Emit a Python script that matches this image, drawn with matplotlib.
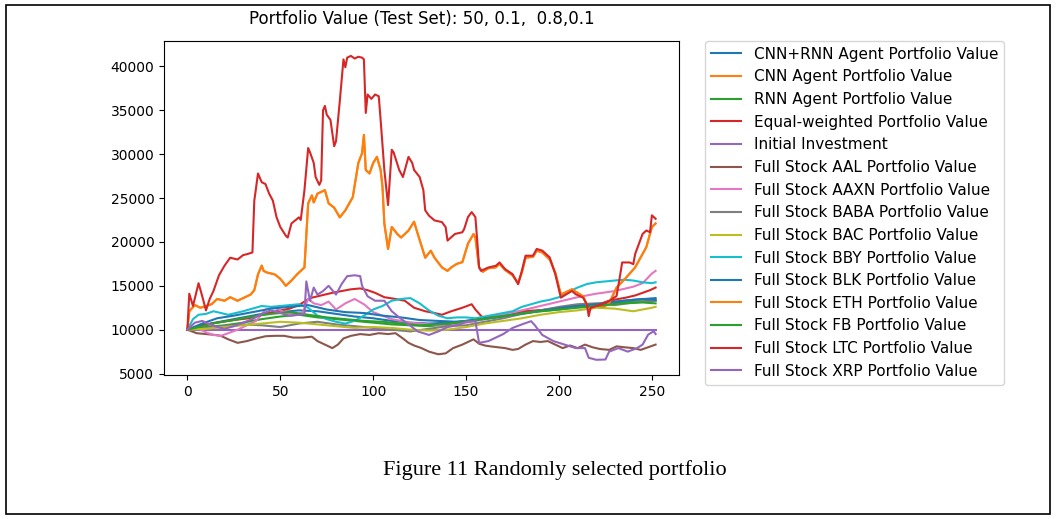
import matplotlib.pyplot as plt
from matplotlib.patches import Rectangle

# values (day index, portfolio value)
ltc_t = [0, 1, 3, 6, 8, 10, 12, 14, 17, 20, 23, 27, 30, 32, 35, 36, 38, 40, 42, 44, 46, 48, 50, 53, 54, 56, 58, 60,
         61, 63, 65, 66, 68, 69, 71, 72, 73, 74, 75, 77, 79, 80, 82, 84, 85, 86, 88, 90, 92, 94, 95, 96, 97, 99, 101,
         103, 104, 106, 108, 110, 111, 114, 116, 119, 121, 122, 125, 127, 128, 130, 133, 137, 139, 140, 142, 144, 148,
         149, 151, 153, 155, 156, 157, 158, 162, 166, 168, 171, 175, 178, 180, 182, 186, 188, 191, 195, 198, 201, 204,
         207, 209, 213, 215, 216, 217, 220, 223, 227, 231, 233, 234, 238, 240, 241, 245, 247, 249, 250, 252]
ltc_v = [10000, 14100, 12700, 15300, 13800, 12200, 13500, 14400, 16200, 17300, 18200, 18000, 18500, 18600, 18800,
         24700, 27800, 26800, 26600, 25500, 24700, 22800, 21700, 20700, 20500, 22100, 22450, 22800, 22500, 25900,
         30700, 30200, 29000, 27400, 26500, 27000, 35000, 35500, 34500, 33900, 30900, 31500, 36000, 40800, 39900,
         41000, 41200, 40900, 41100, 41000, 40800, 34700, 36800, 36300, 36800, 36600, 33900, 28200, 24200, 30500,
         30200, 28200, 27400, 29700, 29000, 28200, 27400, 25900, 23600, 23000, 22450, 22260, 21680, 20150, 20530,
         20910, 21100, 21490, 22830, 23400, 22830, 20150, 17090, 16710, 17090, 17280, 17660, 16900, 16330, 15180,
         16710, 18430, 18430, 19200, 19010, 18240, 16330, 13650, 14040, 14410, 14040, 13650, 12890, 11540, 12500,
         12690, 12890, 13270, 13840, 16330, 17660, 17660, 17470, 18630, 20910, 21300, 21110, 23030, 22640]

eth_t = [0, 1, 4, 7, 10, 13, 16, 20, 23, 27, 31, 34, 36, 38, 40, 41, 43, 47, 50, 53, 56, 59, 61, 63, 65, 67, 68, 70,
         74, 76, 79, 82, 85, 89, 92, 94, 95, 96, 98, 100, 102, 104, 105, 106, 108, 110, 113, 115, 119, 122, 124, 128,
         131, 133, 137, 140, 142, 145, 148, 151, 154, 155, 157, 159, 162, 166, 168, 171, 175, 178, 180, 182, 186, 188,
         191, 195, 198, 201, 204, 207, 210, 213, 216, 220, 224, 227, 231, 236, 241, 247, 250, 252]
eth_v = [10000, 12100, 12800, 12500, 12700, 12900, 13500, 13300, 13700, 13300, 13700, 14000, 14500, 16300, 17300,
         16700, 16500, 16300, 15800, 15000, 15600, 16300, 16700, 17100, 24400, 25300, 24500, 25500, 25900, 24400,
         23900, 22800, 23600, 25100, 29000, 30100, 32200, 28200, 27800, 29000, 29700, 28200, 26300, 22100, 19200,
         21700, 20900, 20500, 21300, 22300, 20900, 18200, 19000, 18200, 17100, 16700, 17100, 17500, 17700, 19800,
         20900, 20500, 17100, 16600, 17000, 17100, 17500, 16800, 16200, 15300, 16500, 18200, 18300, 19000, 18800,
         18000, 16500, 14000, 14300, 14600, 14200, 13800, 12300, 12700, 12600, 13000, 14800, 15900, 17100, 19400,
         21700, 22100]

equal_t = [0, 8, 16, 25, 33, 40, 48, 55, 60, 66, 72, 78, 83, 88, 93, 97, 101, 106, 112, 117, 122, 128, 133, 137,
           142, 148, 153, 155, 159, 165, 172, 180, 188, 195, 200, 206, 212, 218, 223, 227, 232, 236, 241, 245, 249, 252]
equal_v = [10000, 10500, 10800, 11100, 11300, 11700, 12100, 12400, 12800, 13600, 13900, 14200, 14400, 14600, 14700,
           14500, 14200, 13700, 13500, 13300, 12500, 12100, 11900, 11700, 12100, 12500, 12900, 12300, 11350, 11500,
           11700, 12100, 12200, 12300, 12500, 12700, 12800, 12900, 13000, 13300, 13500, 13650, 13900, 14200, 14500,
           14800]

bby_t = [0, 3, 6, 10, 14, 18, 22, 26, 30, 35, 40, 45, 50, 55, 60, 65, 70, 75, 80, 85, 90, 95, 100, 105, 110, 115,
         120, 125, 130, 135, 140, 145, 150, 155, 160, 165, 170, 175, 180, 185, 190, 195, 200, 205, 210, 215, 220, 225,
         230, 235, 240, 245, 250, 252]
bby_v = [10000, 11200, 11700, 11800, 12100, 11900, 11700, 11900, 12100, 12400, 12700, 12600, 12700, 12800, 12900,
         12500, 11600, 11200, 10900, 10700, 11000, 11600, 12300, 12700, 13300, 13500, 13600, 13000, 12200, 11600,
         11300, 11400, 11400, 11300, 11500, 11700, 11900, 12100, 12600, 12900, 13200, 13400, 13700, 14300, 14800,
         15200, 15400, 15500, 15600, 15700, 15600, 15400, 15300, 15400]

xrp_t = [0, 4, 8, 12, 16, 20, 25, 30, 35, 40, 45, 50, 55, 60, 63, 64, 66, 68, 70, 73, 76, 80, 83, 86, 90, 93, 94, 97,
         101, 106, 110, 114, 119, 124, 130, 135, 140, 145, 150, 155, 157, 162, 170, 175, 180, 185, 187, 191, 197, 203,
         209, 214, 216, 220, 225, 227, 232, 237, 242, 245, 248, 251, 252]
xrp_v = [10000, 10800, 11000, 10600, 10300, 10100, 10400, 10800, 11200, 11800, 12200, 11900, 11600, 11700, 11800,
         15500, 13300, 14800, 14000, 14400, 15000, 14000, 15200, 16100, 16200, 16100, 15000, 13800, 13300, 13300,
         12100, 11400, 10600, 9800, 9400, 9800, 10300, 10500, 10900, 10970, 8500, 8700, 9500, 10200, 10600, 10970,
         10500, 9400, 8700, 8300, 7900, 7900, 6800, 6570, 6600, 7500, 7900, 7500, 7900, 8300, 9440, 9820, 9500]

aal_t = [0, 5, 10, 15, 18, 22, 27, 32, 37, 42, 47, 52, 57, 62, 67, 70, 73, 78, 81, 84, 88, 93, 98, 103, 108, 112,
         116, 119, 122, 126, 130, 135, 139, 143, 148, 152, 154, 157, 160, 163, 167, 171, 175, 178, 182, 186, 190, 194,
         198, 202, 206, 210, 214, 218, 222, 227, 231, 235, 240, 244, 248, 252]
aal_v = [10000, 9600, 9500, 9400, 9300, 8900, 8500, 8700, 9000, 9250, 9300, 9300, 9100, 9100, 9200, 8700, 8400,
         7900, 8300, 9000, 9300, 9500, 9400, 9600, 9500, 9600, 9000, 8500, 8200, 7900, 7500, 7200, 7300, 7900, 8300,
         8700, 8900, 8400, 8200, 8100, 8000, 7900, 7700, 7800, 8300, 8700, 8600, 8700, 8300, 7900, 8200, 7900, 8300,
         8000, 7800, 7700, 8100, 8000, 7900, 7700, 8000, 8300]

aaxn_t = [0, 5, 10, 14, 18, 22, 27, 32, 37, 42, 47, 52, 57, 62, 65, 68, 72, 76, 80, 85, 90, 95, 100, 110, 120, 130,
          140, 150, 160, 170, 180, 190, 200, 210, 220, 230, 240, 245, 250, 252]
aaxn_v = [10000, 10200, 9700, 9400, 9300, 9600, 10000, 10500, 11000, 12300, 12500, 12000, 11800, 11900, 13500,
          13000, 12800, 13200, 12300, 13000, 13500, 12900, 12000, 11200, 10800, 10600, 10400, 10800, 11200, 11700,
          12200, 12700, 13200, 13700, 14100, 14400, 14900, 15300, 16400, 16700]

bac_t = [0, 10, 20, 30, 40, 50, 60, 70, 80, 90, 100, 110, 120, 130, 140, 150, 160, 170, 180, 190, 200, 210, 220,
         230, 240, 245, 250, 252]
bac_v = [10000, 10100, 10300, 10500, 10700, 10900, 10800, 10600, 10400, 10200, 10300, 10200, 10000, 9900, 10000,
         10300, 10700, 11000, 11300, 11700, 12000, 12200, 12500, 12400, 12100, 12300, 12500, 12600]

baba_t = [0, 10, 20, 30, 40, 50, 60, 70, 80, 90, 100, 110, 120, 130, 140, 150, 160, 170, 180, 190, 200, 210, 220,
          230, 240, 252]
baba_v = [10000, 10200, 10400, 10600, 10500, 10300, 10700, 10900, 10600, 10400, 10200, 10000, 9800, 10100, 10400,
          10500, 10900, 11300, 11800, 12200, 12600, 12900, 13000, 12800, 13100, 13300]

blk_t = [0, 8, 16, 25, 35, 45, 55, 65, 75, 85, 95, 105, 115, 125, 135, 145, 155, 165, 175, 185, 195, 205, 215, 225,
         235, 245, 252]
blk_v = [10000, 10700, 11300, 11600, 12000, 12400, 12600, 12800, 12300, 12000, 11900, 11600, 11400, 11100, 11000,
         10900, 11100, 11400, 11700, 12000, 12300, 12600, 12800, 13000, 13300, 13500, 13400]

cnnrnn_t = [0, 10, 20, 30, 40, 50, 60, 70, 80, 90, 100, 110, 120, 130, 140, 150, 160, 170, 180, 190, 200, 210, 220,
            230, 240, 252]
cnnrnn_v = [10000, 10600, 11000, 11400, 11800, 12000, 12200, 12100, 11800, 11500, 11300, 11000, 10800, 10700, 10800,
            11000, 11300, 11600, 11900, 12200, 12500, 12700, 12900, 13200, 13400, 13600]

fb_t = [0, 8, 16, 25, 35, 45, 55, 65, 75, 85, 95, 105, 115, 125, 135, 145, 155, 165, 175, 185, 195, 205, 215, 225,
        235, 245, 252]
fb_v = [10000, 10400, 10800, 11100, 11500, 11800, 12000, 11700, 11400, 11200, 11000, 10900, 10700, 10500, 10600,
        10800, 11100, 11400, 11700, 12000, 12200, 12400, 12600, 12800, 13000, 13100, 13000]

rnn_t = [0, 10, 20, 30, 40, 50, 60, 70, 80, 90, 100, 110, 120, 130, 140, 150, 160, 170, 180, 190, 200, 210, 220,
         230, 240, 252]
rnn_v = [10000, 10300, 10500, 10800, 11200, 11500, 11700, 11400, 11200, 11000, 10800, 10600, 10500, 10400, 10600,
         10900, 11200, 11500, 11800, 12100, 12300, 12600, 12800, 13000, 13200, 13300]

initial_t = [0, 252]
initial_v = [10000, 10000]

fig = plt.figure(figsize=(10.56, 5.19), dpi=100)
ax = fig.add_axes([0.1553, 0.2775, 0.4877, 0.6441])

ax.plot(cnnrnn_t, cnnrnn_v, color='C0', label='CNN+RNN Agent Portfolio Value')
ax.plot(eth_t, eth_v, color='C1', label='CNN Agent Portfolio Value')
ax.plot(rnn_t, rnn_v, color='C2', label='RNN Agent Portfolio Value')
ax.plot(equal_t, equal_v, color='C3', label='Equal-weighted Portfolio Value')
ax.plot(initial_t, initial_v, color='C4', label='Initial Investment')
ax.plot(aal_t, aal_v, color='C5', label='Full Stock AAL Portfolio Value')
ax.plot(aaxn_t, aaxn_v, color='C6', label='Full Stock AAXN Portfolio Value')
ax.plot(baba_t, baba_v, color='C7', label='Full Stock BABA Portfolio Value')
ax.plot(bac_t, bac_v, color='C8', label='Full Stock BAC Portfolio Value')
ax.plot(bby_t, bby_v, color='C9', label='Full Stock BBY Portfolio Value')
ax.plot(blk_t, blk_v, color='C0', label='Full Stock BLK Portfolio Value')
ax.plot(eth_t, eth_v, color='C1', label='Full Stock ETH Portfolio Value')
ax.plot(fb_t, fb_v, color='C2', label='Full Stock FB Portfolio Value')
ax.plot(ltc_t, ltc_v, color='C3', label='Full Stock LTC Portfolio Value')
ax.plot(xrp_t, xrp_v, color='C4', label='Full Stock XRP Portfolio Value')

ax.set_title('Portfolio Value (Test Set): 50, 0.1,  0.8,0.1', fontsize=12, pad=12)
ax.legend(loc='upper left', bbox_to_anchor=(1.05, 1), fontsize=11, borderaxespad=0)

fig.text(555 / 1056, 1 - 470 / 519, 'Figure 11 Randomly selected portfolio',
         ha='center', va='center', family='Liberation Serif', fontsize=16)

# page frame around the whole screenshot
fig.patches.append(Rectangle((6 / 1056, 5 / 519), 1044 / 1056, 509 / 519, transform=fig.transFigure,
                             fill=False, edgecolor='black', linewidth=1.2))

fig.savefig('out.png', dpi=100)
